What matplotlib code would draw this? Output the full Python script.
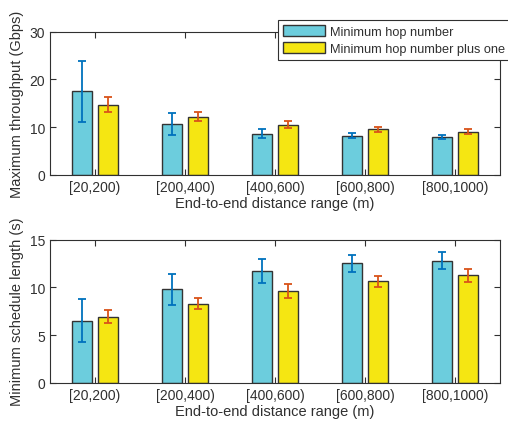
import numpy as np
import matplotlib.pyplot as plt

plt.rcParams['font.family'] = ['Liberation Sans', 'DejaVu Sans']

# data
ranges = ['[20,200)', '[200,400)', '[400,600)', '[600,800)', '[800,1000)']
series = ['Minimum hop number', 'Minimum hop number plus one']

thr_min = [17.5, 10.55, 8.6, 8.2, 7.9]
thr_min_err = [6.4, 2.3, 1.0, 0.6, 0.5]
thr_plus = [14.7, 12.2, 10.5, 9.5, 9.0]
thr_plus_err = [1.5, 0.9, 0.8, 0.55, 0.5]

sch_min = [6.5, 9.8, 11.75, 12.5, 12.8]
sch_min_err = [2.25, 1.6, 1.25, 0.93, 0.86]
sch_plus = [6.93, 8.3, 9.62, 10.64, 11.27]
sch_plus_err = [0.7, 0.6, 0.7, 0.6, 0.7]

cyan = '#6ccddd'
yellow = '#f5e612'
blue = '#0072bd'
orange = '#d95319'
txt = '#303030'

fig = plt.figure(figsize=(5.08, 4.27), dpi=100)
ax1 = fig.add_axes([0.0984, 0.5885, 0.886, 0.335])
ax2 = fig.add_axes([0.0984, 0.1014, 0.886, 0.335])

x = np.arange(1, len(ranges) + 1)
off = 0.145
w = 0.23


def draw(ax, a, ae, b, be, ymax, yticks, ylabel):
    ax.bar(x - off, a, w, color=cyan, edgecolor='#333333', linewidth=1, label=series[0], zorder=2)
    ax.bar(x + off, b, w, color=yellow, edgecolor='#333333', linewidth=1, label=series[1], zorder=2)
    ax.errorbar(x - off, a, yerr=ae, fmt='none', ecolor=blue, elinewidth=1.3, capsize=3, capthick=1.3, zorder=3)
    ax.errorbar(x + off, b, yerr=be, fmt='none', ecolor=orange, elinewidth=1.3, capsize=3, capthick=1.3, zorder=3)
    ax.set_xlim(0.5, 5.5)
    ax.set_ylim(0, ymax)
    ax.set_yticks(yticks)
    ax.set_xticks(x)
    ax.set_xticklabels(ranges)
    ax.tick_params(direction='in', top=True, right=True, colors=txt, labelsize=10, length=4)
    for s in ax.spines.values():
        s.set_color(txt)
        s.set_linewidth(0.8)
    ax.set_xlabel('End-to-end distance range (m)', color=txt, fontsize=10.5, labelpad=2)
    ax.set_ylabel(ylabel, color=txt, fontsize=10.5, labelpad=4)


draw(ax1, thr_min, thr_min_err, thr_plus, thr_plus_err, 30, [0, 10, 20, 30], 'Maximum throughput (Gbps)')
draw(ax2, sch_min, sch_min_err, sch_plus, sch_plus_err, 15, [0, 5, 10, 15], 'Minimum schedule length (s)')

h, l = ax1.get_legend_handles_labels()
leg = fig.legend(h, l, loc='upper left', bbox_to_anchor=(0.547, 0.951), borderaxespad=0,
                 fontsize=9.2, frameon=True, fancybox=False, edgecolor=txt, framealpha=1,
                 handlelength=3.3, handleheight=1.0, borderpad=0.4, labelspacing=0.3,
                 handletextpad=0.4)
leg.get_frame().set_linewidth(0.8)
for t in leg.get_texts():
    t.set_color(txt)

fig.savefig('out.png', dpi=100)
